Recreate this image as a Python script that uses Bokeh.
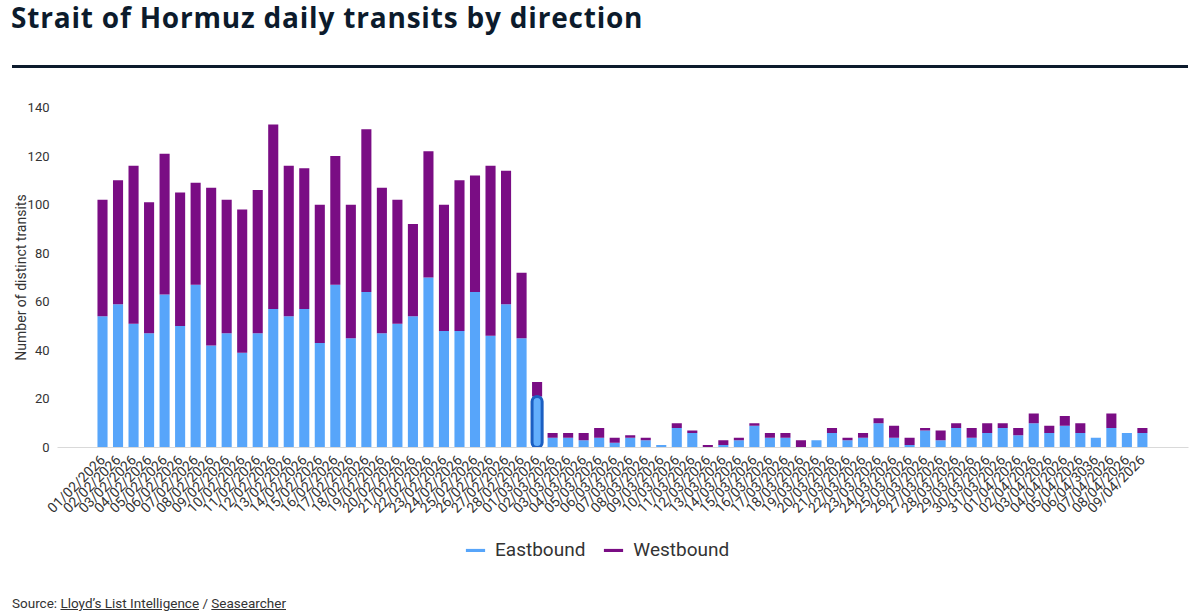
import math
from bokeh.plotting import figure
from bokeh.models import ColumnDataSource, Legend, LegendItem, Range1d, FixedTicker, Div
from bokeh.layouts import column
from bokeh.embed import file_html
from bokeh.resources import INLINE

TITLE = "Strait of Hormuz daily transits by direction"
Y_LABEL = "Number of distinct transits"

dates = [
    "01/02/2026", "02/02/2026", "03/02/2026", "04/02/2026", "05/02/2026", "06/02/2026", "07/02/2026",
    "08/02/2026", "09/02/2026", "10/02/2026", "11/02/2026", "12/02/2026", "13/02/2026", "14/02/2026",
    "15/02/2026", "16/02/2026", "17/02/2026", "18/02/2026", "19/02/2026", "20/02/2026", "21/02/2026",
    "22/02/2026", "23/02/2026", "24/02/2026", "25/02/2026", "26/02/2026", "27/02/2026", "28/02/2026",
    "01/03/2026", "02/03/2026", "03/03/2026", "04/03/2026", "05/03/2026", "06/03/2026", "07/03/2026",
    "08/03/2026", "09/03/2026", "10/03/2026", "11/03/2026", "12/03/2026", "13/03/2026", "14/03/2026",
    "15/03/2026", "16/03/2026", "17/03/2026", "18/03/2026", "19/03/2026", "20/03/2026", "21/03/2026",
    "22/03/2026", "23/03/2026", "24/03/2026", "25/03/2026", "26/03/2026", "27/03/2026", "28/03/2026",
    "29/03/2026", "30/03/2026", "31/03/2026", "01/04/2026", "02/04/2026", "03/04/2026", "04/04/2026",
    "05/04/2026", "06/04/3036", "07/04/2026", "08/04/2026", "09/04/2026",
]

eastbound = [
    54, 59, 51, 47, 63, 50, 67, 42, 47, 39, 47, 57, 54, 57,
    43, 67, 45, 64, 47, 51, 54, 70, 48, 48, 64, 46, 59, 45,
    21, 4, 4, 3, 4, 2, 4, 3, 1, 8, 6, 0, 1, 3,
    9, 4, 4, 0, 3, 6, 3, 4, 10, 4, 1, 7, 3, 8,
    4, 6, 8, 5, 10, 6, 9, 6, 4, 8, 6, 6,
]

westbound = [
    48, 51, 65, 54, 58, 55, 42, 65, 55, 59, 59, 76, 62, 58,
    57, 53, 55, 67, 60, 51, 38, 52, 52, 62, 48, 70, 55, 27,
    6, 2, 2, 3, 4, 2, 1, 1, 0, 2, 1, 1, 2, 1,
    1, 2, 2, 3, 0, 2, 1, 2, 2, 5, 3, 1, 4, 2,
    4, 4, 2, 3, 4, 3, 4, 4, 0, 6, 0, 2,
]

y_ticks = [0, 20, 40, 60, 80, 100, 120, 140]
highlight_date = "01/03/2026"

BLUE = "#57a5fa"
PURPLE = "#7a0d84"
TEXT = "#333333"
FONT = "Roboto"

idx = list(range(len(dates)))
src = ColumnDataSource(dict(x=idx, Eastbound=eastbound, Westbound=westbound))

p = figure(width=1200, height=457, output_backend="svg", toolbar_location=None,
           x_range=Range1d(-2.9, 69.97), y_range=Range1d(0, 140),
           min_border_left=57, min_border_right=12, min_border_top=37, min_border_bottom=80)

rs = p.vbar_stack(["Eastbound", "Westbound"], x="x", width=0.65, source=src,
                  fill_color=[BLUE, PURPLE], line_color=None)

hx = dates.index(highlight_date)
p.vbar(x=[hx], top=[eastbound[hx]], width=0.65, fill_color="#63affc",
       line_color="#1b5fc2", line_width=3, border_radius=7)

p.xgrid.visible = False
p.ygrid.visible = False
p.outline_line_color = None
p.background_fill_color = "white"
p.border_fill_color = "white"

xa = p.xaxis[0]
xa.ticker = FixedTicker(ticks=idx)
xa.major_label_overrides = {i: d for i, d in enumerate(dates)}
xa.major_label_orientation = math.pi / 4
xa.major_label_text_font = FONT
xa.major_label_text_font_size = "14px"
xa.major_label_text_color = TEXT
xa.axis_line_color = "#d9d9d9"
xa.major_tick_line_color = None
xa.minor_tick_line_color = None
xa.major_label_standoff = 4

ya = p.yaxis[0]
ya.ticker = FixedTicker(ticks=y_ticks)
ya.axis_line_color = None
ya.major_tick_line_color = None
ya.minor_tick_line_color = None
ya.major_label_text_font = FONT
ya.major_label_text_font_size = "13px"
ya.major_label_text_color = TEXT
ya.major_label_standoff = 2
ya.axis_label = Y_LABEL
ya.axis_label_text_font = FONT
ya.axis_label_text_font_size = "14px"
ya.axis_label_text_font_style = "normal"
ya.axis_label_text_color = TEXT
ya.axis_label_standoff = -4

# legend strip: same series as hidden renderers, only their legend keys are drawn
pl = figure(width=1200, height=46, output_backend="svg", toolbar_location=None,
            x_range=Range1d(-2.9, 69.97), y_range=Range1d(0, 140), min_border=0)
pl.axis.visible = False
pl.grid.visible = False
pl.outline_line_color = None
keys = pl.vbar_stack(["Eastbound", "Westbound"], x="x", width=0.65, source=src,
                     fill_color=[BLUE, PURPLE], line_color=None)
for k in keys:
    k.visible = False
legend = Legend(items=[LegendItem(label="Eastbound", renderers=[keys[0]]),
                       LegendItem(label="Westbound", renderers=[keys[1]])],
                orientation="horizontal", location=(400, 6),
                glyph_width=24, glyph_height=4, label_standoff=8, spacing=16,
                label_text_font=FONT, label_text_font_size="19px", label_text_color=TEXT,
                border_line_alpha=0, background_fill_alpha=0, margin=0, padding=6,
                inactive_fill_alpha=0)
pl.add_layout(legend, "center")

title_div = Div(text=(
    f'<div style="font-family:\'Open Sans\';font-weight:700;font-size:28px;line-height:28px;'
    f'letter-spacing:0.8px;color:#0c1b2c;margin:3px 0 0 11px;white-space:nowrap;">{TITLE}</div>'
    '<div style="margin:34px 0 0 12px;width:1176px;border-top:3px solid #0c1b2c;"></div>'),
    width=1200, height=70, margin=(0, 0, 0, 0))

source_div = Div(text=(
    f'<div style="font-family:{FONT};font-size:13.5px;line-height:16px;color:{TEXT};'
    'padding-top:22px;margin-left:12px;white-space:nowrap;">'
    'Source: <u>Lloyd\u2019s List Intelligence</u> / <u>Seasearcher</u></div>'),
    width=1200, height=42, margin=(0, 0, 0, 0))

layout = column(title_div, p, pl, source_div, spacing=0)

open("out.html", "w").write(file_html(layout, INLINE))
